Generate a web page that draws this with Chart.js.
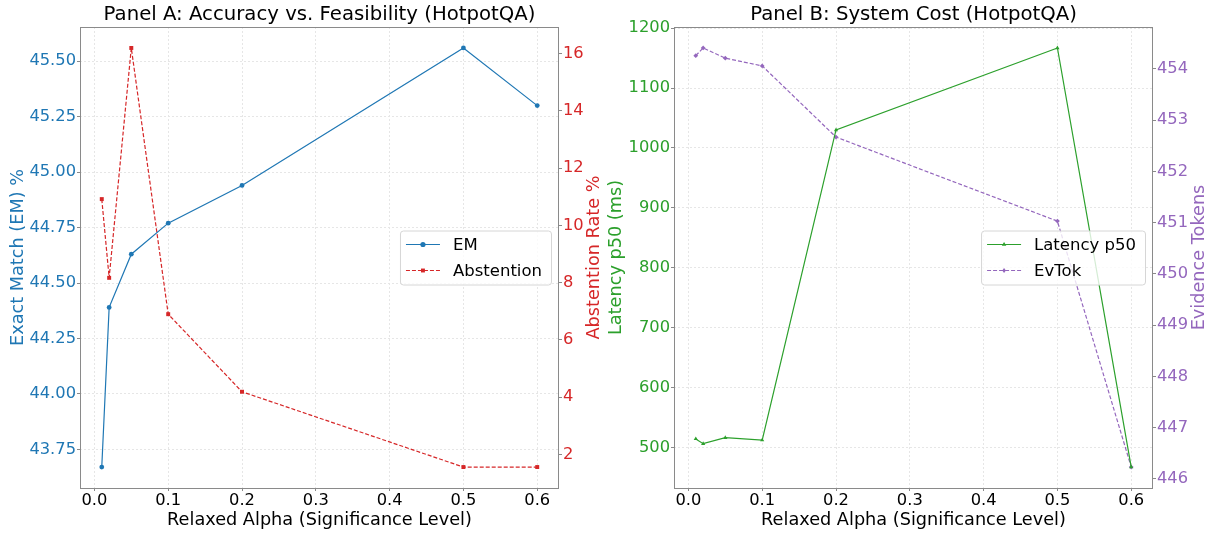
<!DOCTYPE html>
<head>
  <script src="https://cdn.jsdelivr.net/npm/chart.js"></script>
  <style>
      body { margin: 0; background: #fff; }
      .panel { position: absolute; top: 0; }
  </style>
</head>

<body>
  <div class="panel" style="left:0px"><canvas id="panelA" width="605" height="533"></canvas></div>
  <div class="panel" style="left:605px"><canvas id="panelB" width="612" height="533"></canvas></div>

<script>
// data
const alphas = [0.01, 0.02, 0.05, 0.1, 0.2, 0.5, 0.6];
const emValues = [43.67, 44.39, 44.63, 44.77, 44.94, 45.56, 45.30];
const abstentionValues = [10.92, 8.17, 16.2, 6.9, 4.19, 1.56, 1.56];
const latencyValues = [514, 506, 516, 512, 1030, 1167, 467];
const evTokValues = [454.26, 454.41, 454.21, 454.06, 452.67, 451.03, 446.23];

const xTicks = [0, 0.1, 0.2, 0.3, 0.4, 0.5, 0.6];
const emTicks = [43.75, 44.0, 44.25, 44.5, 44.75, 45.0, 45.25, 45.5];
const abstTicks = [2, 4, 6, 8, 10, 12, 14, 16];
const latTicks = [500, 600, 700, 800, 900, 1000, 1100, 1200];
const tokTicks = [446, 447, 448, 449, 450, 451, 452, 453, 454];

const BLUE = '#1f77b4', RED = '#d62728', GREEN = '#2ca02c', PURPLE = '#9467bd';
const FONT = '"DejaVu Sans", sans-serif';
const GRID = '#e6e6e6';

function pts(ys) { return alphas.map((a, i) => ({x: a, y: ys[i]})); }

function setTicks(list) {
  return function(scale) { scale.ticks = list.map(v => ({value: v})); };
}

function drawMarker(ctx, style, x, y, r, color) {
  ctx.fillStyle = color;
  ctx.beginPath();
  if (style === 'circle') {
    ctx.arc(x, y, r, 0, Math.PI * 2);
  } else if (style === 'rect') {
    ctx.rect(x - r * 0.75, y - r * 0.75, r * 1.5, r * 1.5);
  } else if (style === 'triangle') {
    ctx.moveTo(x, y - r); ctx.lineTo(x + r * 0.87, y + r * 0.5); ctx.lineTo(x - r * 0.87, y + r * 0.5);
  } else {
    ctx.moveTo(x, y - r); ctx.lineTo(x + r * 0.7, y); ctx.lineTo(x, y + r); ctx.lineTo(x - r * 0.7, y);
  }
  ctx.closePath();
  ctx.fill();
}

// frame, title, right axis title and matplotlib-like legend
const panelExtras = {
  id: 'panelExtras',
  afterDraw(chart, args, options) {
    const {ctx, chartArea: {left, right, top, bottom}} = chart;
    ctx.save();
    ctx.strokeStyle = '#8a8a8a';
    ctx.lineWidth = 1;
    ctx.strokeRect(Math.round(left) + 0.5, Math.round(top) + 0.5, Math.round(right - left) - 1, Math.round(bottom - top));

    ctx.fillStyle = '#000';
    ctx.font = '19.7px ' + FONT;
    ctx.textAlign = 'center';
    ctx.textBaseline = 'alphabetic';
    ctx.fillText(options.title, (left + right) / 2, 20);

    // right axis title reads bottom-to-top like matplotlib
    ctx.save();
    ctx.translate(options.rightX, (top + bottom) / 2);
    ctx.rotate(-Math.PI / 2);
    ctx.font = '17.7px ' + FONT;
    ctx.fillStyle = options.rightColor;
    ctx.textBaseline = 'middle';
    ctx.fillText(options.rightTitle, 0, 0);
    ctx.restore();

    ctx.font = '16.5px ' + FONT;
    const items = options.items;
    const textW = Math.max(...items.map(it => ctx.measureText(it.label).width));
    const w = 6 + 34 + 13 + textW + 9;
    const h = 54;
    const x0 = right - 8 - w;
    const y0 = (top + bottom) / 2 - h / 2;
    ctx.beginPath();
    ctx.roundRect(x0 + 0.5, y0 + 0.5, w, h, 3);
    ctx.fillStyle = 'rgba(255,255,255,0.8)';
    ctx.fill();
    ctx.strokeStyle = '#d6d6d6';
    ctx.stroke();
    items.forEach((it, i) => {
      const y = y0 + 14 + i * 26;
      ctx.strokeStyle = it.color;
      ctx.lineWidth = 1.2;
      ctx.setLineDash(it.dash);
      ctx.beginPath();
      ctx.moveTo(x0 + 6, y);
      ctx.lineTo(x0 + 40, y);
      ctx.stroke();
      ctx.setLineDash([]);
      drawMarker(ctx, it.marker, x0 + 23, y, 2.6, it.color);
      ctx.fillStyle = '#000';
      ctx.textAlign = 'left';
      ctx.textBaseline = 'middle';
      ctx.fillText(it.label, x0 + 53, y + 1);
    });
    ctx.restore();
  }
};

function xScale() {
  return {
    type: 'linear',
    min: -0.0195,
    max: 0.6295,
    afterBuildTicks: setTicks(xTicks),
    afterFit(scale) { scale.height = 45; },
    grid: { color: GRID, tickColor: '#8a8a8a', tickLength: 3 },
    border: { display: false, dash: [2, 2] },
    ticks: { color: '#000', padding: 0, font: { family: FONT, size: 16.3 }, callback: v => v.toFixed(1) },
    title: { display: true, text: 'Relaxed Alpha (Significance Level)', color: '#000',
             font: { family: FONT, size: 17.7 }, padding: { top: 2, bottom: 2 } }
  };
}

function yScale(pos, min, max, ticks, width, color, title, titlePad, decimals, grid) {
  return {
    type: 'linear',
    position: pos,
    min: min,
    max: max,
    afterBuildTicks: setTicks(ticks),
    afterFit(scale) { scale.width = width; },
    grid: { drawOnChartArea: grid, color: GRID, tickColor: '#8a8a8a', tickLength: 3 },
    border: { display: false, dash: [2, 2] },
    ticks: { color: color, padding: 1, font: { family: FONT, size: 16.3 }, callback: v => v.toFixed(decimals) },
    title: { display: title !== '', text: title, color: color,
             font: { family: FONT, size: 17.7 }, padding: { top: titlePad, bottom: 0 } }
  };
}

function series(label, ys, color, axis, dash, marker) {
  return {
    label: label,
    data: pts(ys),
    yAxisID: axis,
    borderColor: color,
    backgroundColor: color,
    borderWidth: 1.2,
    borderDash: dash,
    pointStyle: marker,
    pointRadius: marker === 'rect' ? 2.8 : 2.4,
    pointBorderWidth: 0,
    tension: 0
  };
}

new Chart(document.getElementById('panelA'), {
  type: 'line',
  data: {
    datasets: [
      series('EM', emValues, BLUE, 'y', [], 'circle'),
      series('Abstention', abstentionValues, RED, 'y1', [4, 2], 'rect')
    ]
  },
  options: {
    responsive: false,
    animation: false,
    layout: { padding: { top: 27, left: 0, right: 0, bottom: 0 } },
    plugins: {
      legend: { display: false },
      tooltip: { enabled: false },
      panelExtras: {
        title: 'Panel A: Accuracy vs. Feasibility (HotpotQA)',
        rightTitle: 'Abstention Rate %',
        rightColor: RED,
        rightX: 594,
        items: [
          { label: 'EM', color: BLUE, dash: [], marker: 'circle' },
          { label: 'Abstention', color: RED, dash: [4, 2], marker: 'rect' }
        ]
      }
    },
    scales: {
      x: xScale(),
      y: yScale('left', 43.5755, 45.6545, emTicks, 80, BLUE, 'Exact Match (EM) %', 8, 2, true),
      y1: yScale('right', 0.828, 16.932, abstTicks, 46, RED, '', 0, 0, false)
    }
  },
  plugins: [panelExtras]
});

new Chart(document.getElementById('panelB'), {
  type: 'line',
  data: {
    datasets: [
      series('Latency p50', latencyValues, GREEN, 'y', [], 'triangle'),
      series('EvTok', evTokValues, PURPLE, 'y1', [4, 2], 'rectRot')
    ]
  },
  options: {
    responsive: false,
    animation: false,
    layout: { padding: { top: 27, left: 0, right: 0, bottom: 0 } },
    plugins: {
      legend: { display: false },
      tooltip: { enabled: false },
      panelExtras: {
        title: 'Panel B: System Cost (HotpotQA)',
        rightTitle: 'Evidence Tokens',
        rightColor: PURPLE,
        rightX: 594.5,
        items: [
          { label: 'Latency p50', color: GREEN, dash: [], marker: 'triangle' },
          { label: 'EvTok', color: PURPLE, dash: [4, 2], marker: 'diamond' }
        ]
      }
    },
    scales: {
      x: xScale(),
      y: yScale('left', 432, 1202, latTicks, 69, GREEN, 'Latency p50 (ms)', 1, 0, true),
      y1: yScale('right', 445.821, 454.819, tokTicks, 64, PURPLE, '', 0, 0, false)
    }
  },
  plugins: [panelExtras]
});
</script>
</body>
